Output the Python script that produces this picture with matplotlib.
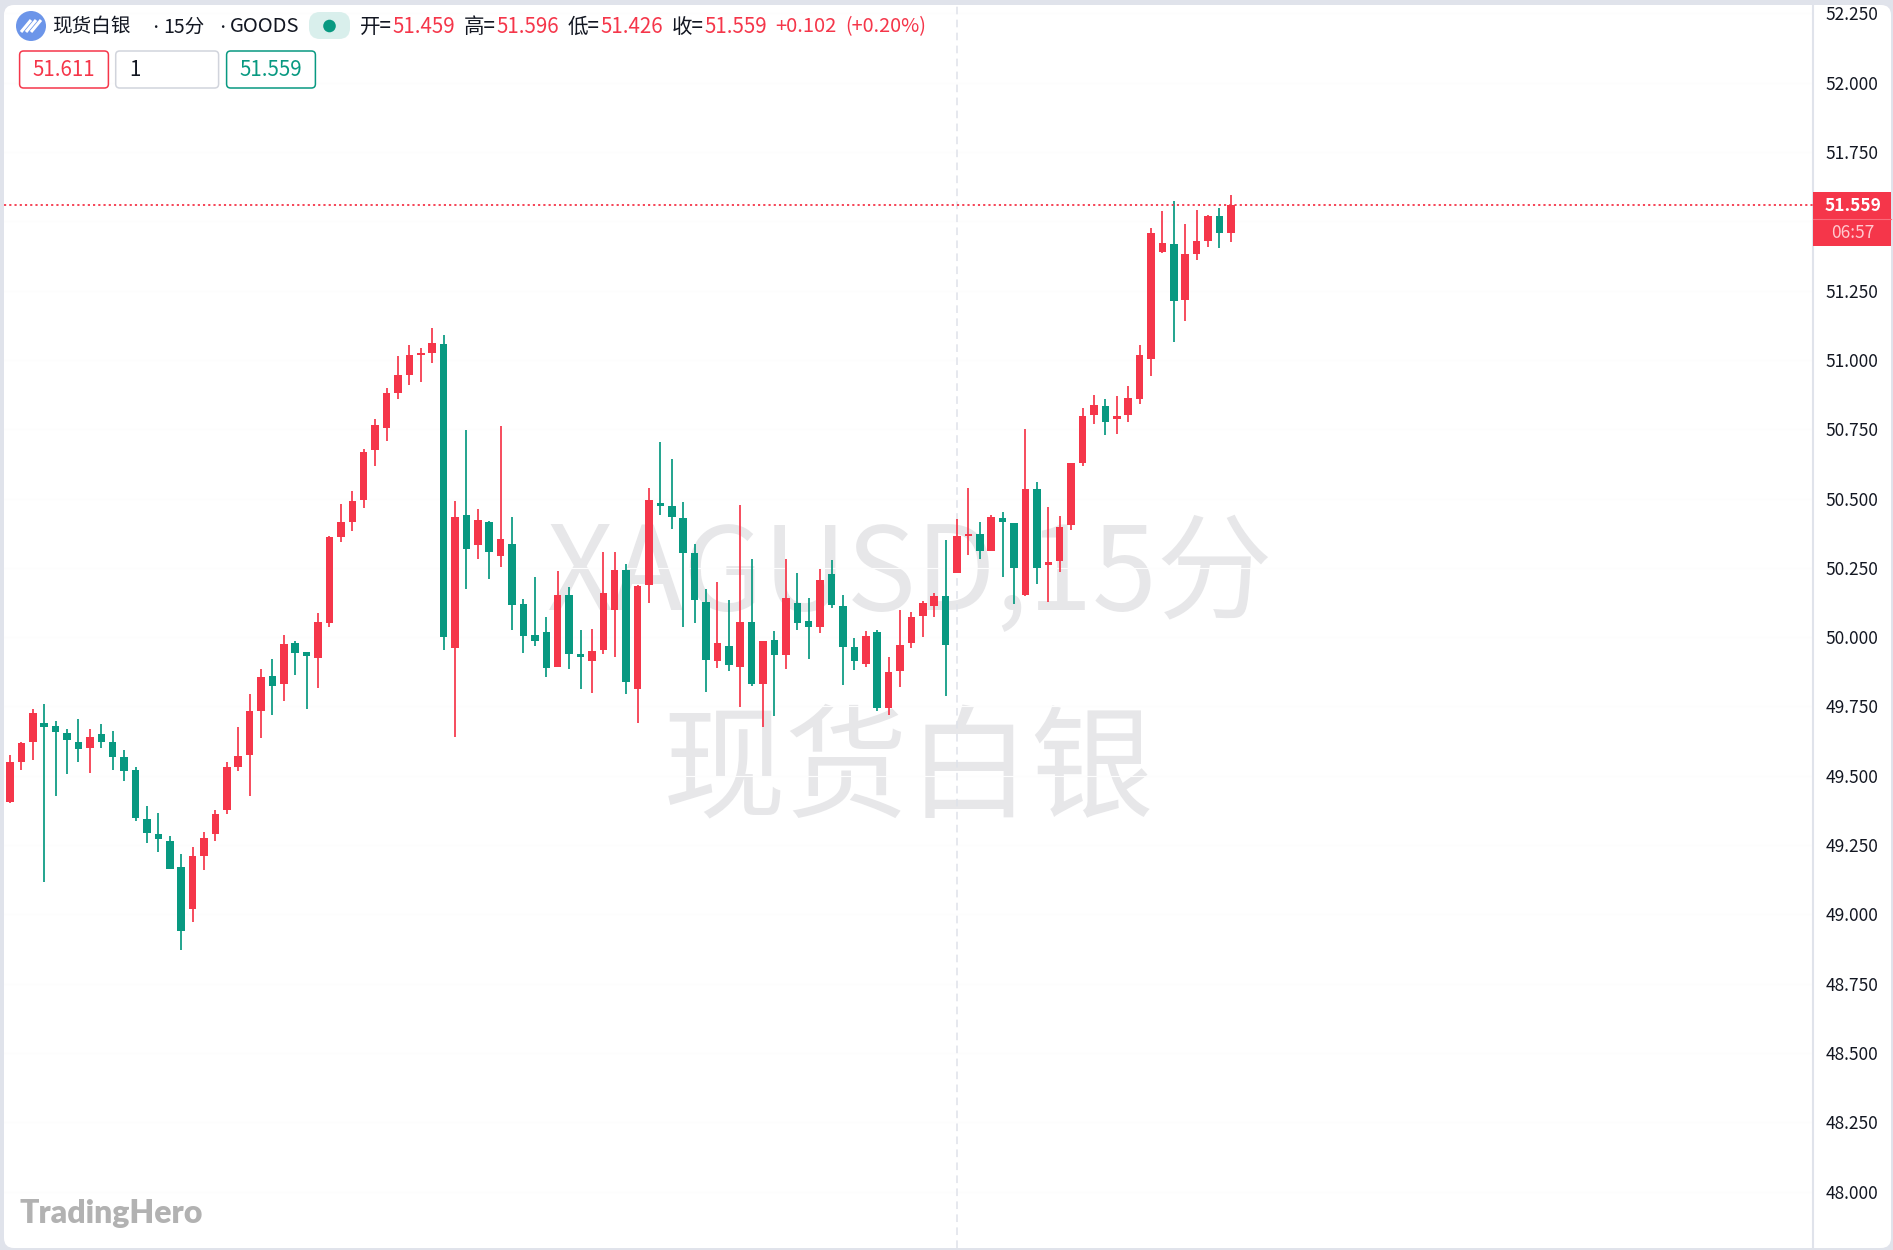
import matplotlib
matplotlib.use("Agg")
import matplotlib.pyplot as plt
from matplotlib.patches import FancyBboxPatch, Circle, Rectangle

plt.rcParams['font.family'] = ['Noto Sans CJK SC', 'DejaVu Sans']

opens = [49.406,49.551,49.623,49.690,49.678,49.656,49.622,49.599,49.650,49.622,
         49.567,49.521,49.345,49.289,49.265,49.170,49.019,49.209,49.291,49.377,
         49.532,49.574,49.734,49.860,49.832,49.978,49.948,49.924,50.052,50.360,
         50.416,50.495,50.674,50.755,50.881,50.947,51.019,51.026,51.059,49.962,
         50.440,50.333,50.414,50.292,50.337,50.119,50.009,50.020,49.891,50.151,
         49.939,49.914,49.953,50.099,50.242,49.814,50.189,50.485,50.472,50.430,
         50.303,50.128,49.915,49.968,49.892,50.055,49.831,49.991,49.936,50.125,
         50.060,50.037,50.227,50.113,49.966,49.904,50.017,49.745,49.879,49.979,
         50.075,50.111,50.150,50.233,50.364,50.372,50.312,50.429,50.413,50.151,
         50.533,50.259,50.274,50.405,50.628,50.800,50.835,50.788,50.800,50.858,
         51.004,51.391,51.420,51.215,51.384,51.429,51.518,51.459]
closes = [49.550,49.619,49.728,49.677,49.659,49.629,49.595,49.639,49.622,49.568,
          49.516,49.349,49.294,49.273,49.164,48.939,49.209,49.277,49.362,49.531,
          49.570,49.734,49.856,49.825,49.977,49.943,49.932,50.054,50.361,50.417,
          50.493,50.668,50.766,50.881,50.945,51.017,51.026,51.060,50.002,50.435,
          50.318,50.422,50.309,50.353,50.117,50.006,49.988,49.890,50.151,49.939,
          49.930,49.951,50.161,50.244,49.838,50.185,50.496,50.474,50.434,50.305,
          50.134,49.918,49.980,49.900,50.056,49.831,49.987,49.937,50.143,50.052,
          50.036,50.205,50.117,49.966,49.915,50.003,49.743,49.874,49.971,50.072,
          50.123,50.150,49.971,50.366,50.371,50.312,50.432,50.416,50.250,50.533,
          50.248,50.271,50.398,50.628,50.799,50.839,50.776,50.798,50.864,51.017,
          51.459,51.421,51.212,51.381,51.428,51.519,51.457,51.559]
highs = [49.575,49.622,49.742,49.758,49.696,49.668,49.706,49.670,49.686,49.663,
         49.593,49.533,49.391,49.365,49.284,49.217,49.243,49.298,49.377,49.548,
         49.675,49.794,49.885,49.921,50.007,49.986,49.948,50.086,50.365,50.482,
         50.527,50.678,50.786,50.898,51.014,51.053,51.042,51.114,51.089,50.491,
         50.748,50.464,50.418,50.762,50.432,50.138,50.217,50.072,50.240,50.180,
         50.025,50.028,50.307,50.306,50.264,50.187,50.537,50.704,50.642,50.486,
         50.336,50.173,50.199,50.133,50.477,50.282,49.987,50.022,50.281,50.230,
         50.141,50.245,50.278,50.152,49.998,50.024,50.025,49.930,50.099,50.092,
         50.132,50.158,50.349,50.428,50.537,50.417,50.440,50.450,50.413,50.750,
         50.560,50.471,50.436,50.628,50.828,50.875,50.858,50.869,50.905,51.053,
         51.475,51.536,51.574,51.491,51.540,51.524,51.547,51.596]
lows = [49.401,49.521,49.557,49.118,49.427,49.505,49.551,49.509,49.599,49.522,
        49.481,49.337,49.258,49.225,49.164,48.873,48.974,49.160,49.266,49.363,
        49.518,49.427,49.638,49.720,49.769,49.865,49.742,49.816,50.038,50.342,
        50.384,50.467,50.618,50.709,50.860,50.909,50.919,50.989,49.954,49.639,
        50.174,50.282,50.209,50.254,50.027,49.942,49.969,49.855,49.891,49.887,
        49.813,49.800,49.938,49.927,49.796,49.691,50.125,50.442,50.390,50.038,
        50.050,49.803,49.890,49.877,49.747,49.825,49.677,49.714,49.886,50.026,
        49.923,50.014,50.106,49.828,49.880,49.891,49.734,49.720,49.821,49.960,
        50.002,50.074,49.789,50.233,50.296,50.282,50.310,50.216,50.121,50.149,
        50.193,50.126,50.236,50.388,50.619,50.770,50.731,50.732,50.778,50.840,
        50.942,51.386,51.066,51.142,51.362,51.409,51.403,51.426]

price_ticks = [48.00,48.25,48.50,48.75,49.00,49.25,49.50,49.75,50.00,50.25,
               50.50,50.75,51.00,51.25,51.50,51.75,52.00,52.25]
# tick 51.500 is hidden behind the live-price label in the reference
hidden_ticks = [51.50]
last_price = 51.559

W, H = 1893, 1250
RED, GREEN = '#F5364A', '#089981'
BG, INK = '#E0E3EB', '#131722'

fig = plt.figure(figsize=(W/100, H/100), dpi=100, facecolor=BG)

def px_axes(zorder):
    a = fig.add_axes([0, 0, 1, 1], zorder=zorder)
    a.set_xlim(0, W); a.set_ylim(H, 0); a.axis('off')
    a.patch.set_alpha(0)
    return a

bg = px_axes(0)
bg.add_patch(FancyBboxPatch((12, 13), W-2-12-8, H-2-13-8, boxstyle="round,pad=8,rounding_size=10",
                            fc='white', ec='none'))
WM = '#E7E7E9'
bg.text(909, 577, 'XAGUSD,15分', fontsize=83.5, color=WM, ha='center', va='center')
bg.text(908, 772, '现货白银', fontsize=88.5, color=WM, ha='center', va='center')
bg.text(19, 1213, 'TradingHero', fontsize=23, fontweight='heavy', family='Lato',
        color='#B2B2B2', ha='left', va='center')

# main chart
left, right, top, bottom = 4, 1813, 5, 1248
ax = fig.add_axes([left/W, 1-bottom/H, (right-left)/W, (bottom-top)/H], zorder=1)
ax.patch.set_alpha(0)
step = 11.41
ax.set_xlim((left-10)/step, (right-10)/step)
ax.set_ylim(52.2987-bottom/277.2, 52.2987-top/277.2)
for s in ['top', 'left', 'bottom']:
    ax.spines[s].set_visible(False)
ax.spines['right'].set_color(BG); ax.spines['right'].set_linewidth(1.5)
ax.set_xticks([])
ax.yaxis.tick_right()
shown = [t for t in price_ticks if t not in hidden_ticks]
ax.set_yticks(shown)
ax.set_yticklabels([f'{t:.3f}' for t in shown], fontsize=12.5, color=INK)
ax.tick_params(axis='y', length=0, pad=9.2)
ax.hlines(price_ticks, *ax.get_xlim(), color='#FDFDFD', lw=0.8, zorder=0)

# crosshair
ax.axvline(83, color='#DFE2EA', lw=1.1, dashes=(5, 3.5), zorder=1)

xs = list(range(len(opens)))
cols = [RED if c >= o else GREEN for o, c in zip(opens, closes)]
ax.vlines(xs, lows, highs, colors=cols, lw=1.25, zorder=2)
ax.bar(xs, [abs(c-o) for o, c in zip(opens, closes)], bottom=[min(o, c) for o, c in zip(opens, closes)],
       width=0.66, color=cols, edgecolor='none', zorder=3)
ax.axhline(last_price, color=RED, lw=1.3, dashes=(1.2, 1.7), zorder=4)

# interface overlay
ov = px_axes(2)
ov.add_patch(Rectangle((1813, 192), 78, 54, fc=RED, ec='none'))
ov.plot([1813, 1891], [219, 219], color='#F96C7B', lw=0.8)
ov.text(1853, 206, '51.559', color='white', fontsize=12.5, fontweight='bold', ha='center', va='center')
ov.text(1853, 232.5, '06:57', color='#FFC9CF', fontsize=12.5, ha='center', va='center')

ov.add_patch(Circle((31, 26), 15, fc='#6C95E9', ec='none'))
for dx in (-5, 0, 5):
    ov.plot([31+dx-5, 31+dx+5], [26+6, 26-6], color='white', lw=2.2, solid_capstyle='butt')

title_parts = [(52, '现货白银', 14.1, 'left'), (155, '•', 9, 'center'), (163.5, '15分', 14.1, 'left'),
               (222, '•', 9, 'center'), (230, 'GOODS', 14.6, 'left')]
for x, s, fs, ha in title_parts:
    ov.text(x, 27, s, fontsize=fs, color=INK, ha=ha, va='center')
ov.add_patch(FancyBboxPatch((316, 19), 27, 13, boxstyle="round,pad=7,rounding_size=11", fc='#D9EFEC', ec='none'))
ov.add_patch(Circle((329.5, 26), 6.3, fc=GREEN, ec='none'))

header = [(359.5, '开=', INK, 14.8), (392, '51.459', RED, 14.8), (463.5, '高=', INK, 14.8), (496, '51.596', RED, 14.8),
          (567.7, '低=', INK, 14.8), (600, '51.426', RED, 14.8), (672, '收=', INK, 14.8), (704, '51.559', RED, 14.8),
          (775, '+0.102', RED, 14.5), (845, '(+0.20%)', RED, 14.2)]
for x, s, c, fs in header:
    ov.text(x, 27, s, fontsize=fs, color=c, ha='left', va='center')

boxes = [(19.6, 108.4, RED, '51.611', RED, 'center'),
         (115.7, 218.6, '#D1D4DC', '1', INK, 'left'),
         (226.6, 315.4, GREEN, '51.559', GREEN, 'center')]
for x0, x1, ec, s, tc, ha in boxes:
    ov.add_patch(FancyBboxPatch((x0+4, 55), x1-x0-8, 29, boxstyle="round,pad=4,rounding_size=4",
                                fc='white', ec=ec, lw=1.1))
    ov.text((x0+x1)/2 if ha == 'center' else 129, 70, s, fontsize=14.8, color=tc, ha=ha, va='center')

fig.savefig('out.png', dpi=100, facecolor=BG)
